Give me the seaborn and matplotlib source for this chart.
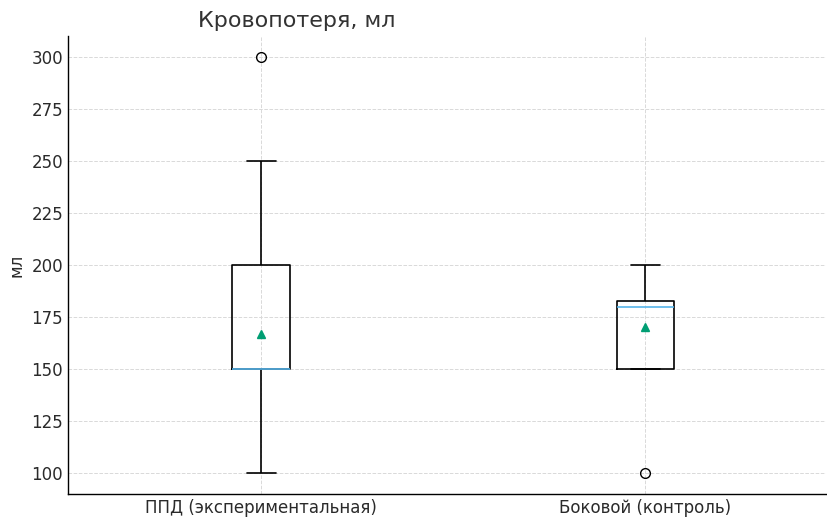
import matplotlib
matplotlib.use("Agg")
import matplotlib.pyplot as plt
import seaborn as sns
import pandas as pd

# Blood loss per patient, ml
groups = ["ППД (экспериментальная)", "Боковой (контроль)"]
ppd_values = [100, 100, 100, 150, 150, 150, 150, 150, 170, 200, 200, 250, 300]
lateral_values = [100, 150, 150, 150, 180, 180, 180, 180, 180, 190, 200, 200]

df = pd.DataFrame({
    "group": [groups[0]] * len(ppd_values) + [groups[1]] * len(lateral_values),
    "value": ppd_values + lateral_values,
})

sns.set_theme(style="white")
plt.rcParams["font.family"] = ["DejaVu Sans"]

fig = plt.figure(figsize=(8.27, 5.19), dpi=100)
ax = fig.add_axes([0.0822, 0.0482, 0.9166, 0.8824])

sns.boxplot(
    data=df, x="group", y="value", order=groups, ax=ax,
    fill=False, color="black", width=0.15, linewidth=1.2,
    showmeans=True,
    medianprops=dict(color="#56b4e9", linewidth=1.2),
    meanprops=dict(marker="^", markerfacecolor="#009e73",
                   markeredgecolor="#009e73", markersize=6),
    flierprops=dict(marker="o", markerfacecolor="none",
                    markeredgecolor="black", markersize=7),
    whiskerprops=dict(color="black"),
    capprops=dict(color="black"),
)

ax.set_xlim(-0.503, 1.47)
ax.set_ylim(90, 310)
ax.set_yticks([100, 125, 150, 175, 200, 225, 250, 275, 300])
ax.grid(True, linestyle="--", color="#d9d9d9", linewidth=0.7)
ax.set_axisbelow(True)
ax.set_xlabel("")
ax.set_ylabel("мл", fontsize=12, color="#2a2a2a")
ax.tick_params(axis="both", direction="in", labelsize=12, colors="#222222",
               length=4, width=0.8)
ax.tick_params(axis="both", labelcolor="#2a2a2a")
for side in ["top", "right"]:
    ax.spines[side].set_visible(False)
for side in ["left", "bottom"]:
    ax.spines[side].set_color("black")
    ax.spines[side].set_linewidth(1.0)

fig.text(297 / 827, 1 - 21 / 519, "Кровопотеря, мл", ha="center", va="center",
         fontsize=16, color="#333333")

fig.savefig("out.png", dpi=100)
